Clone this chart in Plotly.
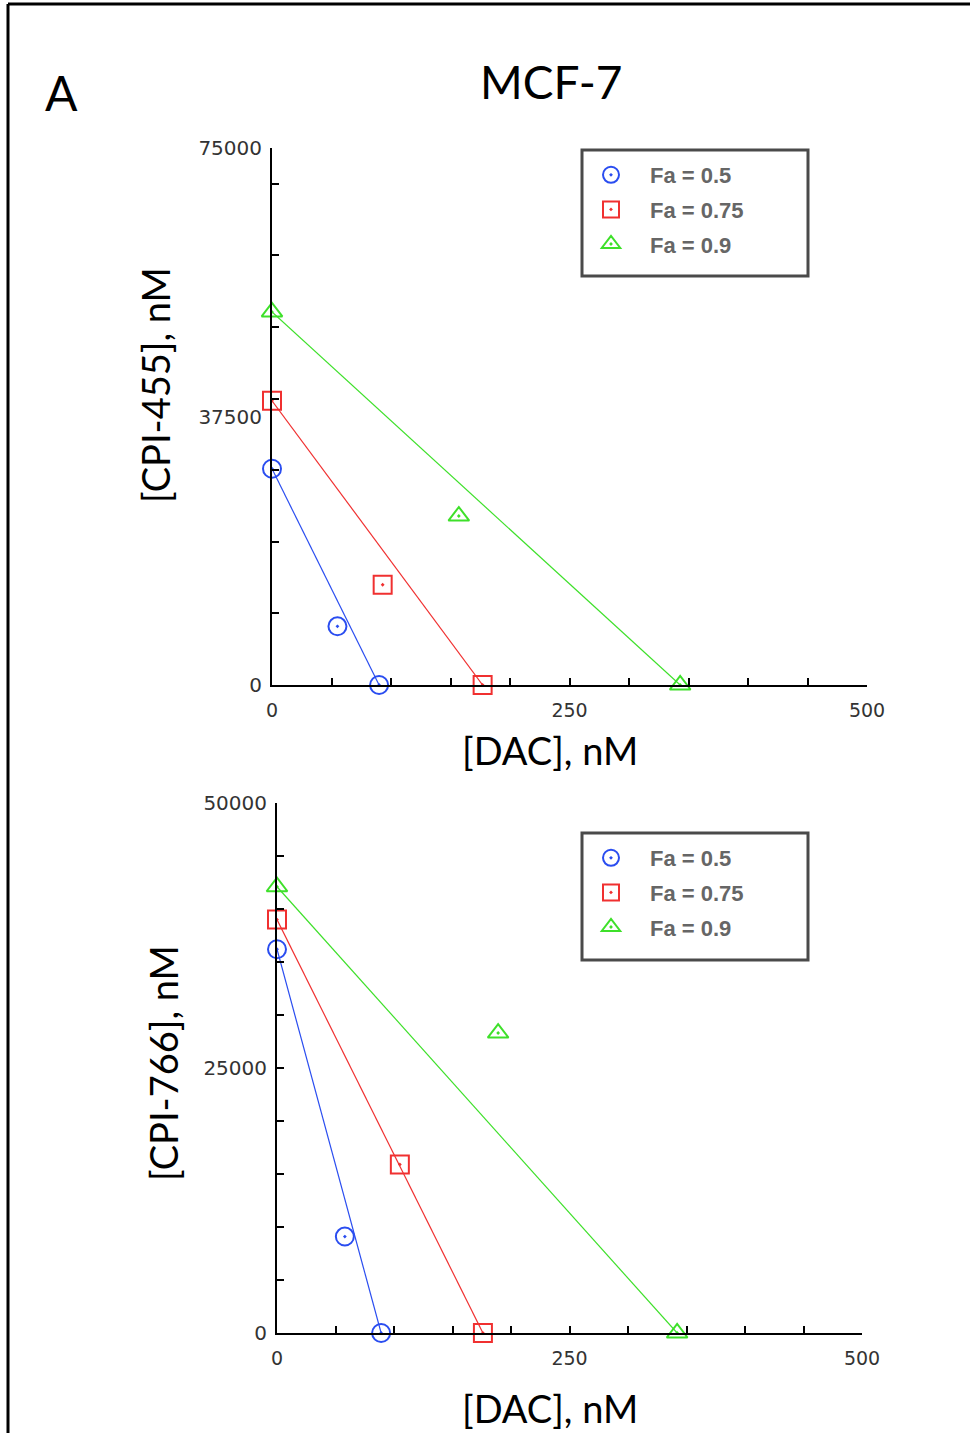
import plotly.graph_objects as go

# ---------------- data ----------------
fa_labels = ["Fa = 0.5", "Fa = 0.75", "Fa = 0.9"]
colors = ["#2a4df0", "#f03030", "#3ee02a"]
symbols = ["circle-open-dot", "square-open-dot", "triangle-up-open-dot"]

# Top panel: DAC (x) vs CPI-455 (y)
dac_top = [[0, 55, 90], [0, 93, 177], [0, 157, 343]]
cpi455 = [[30200, 8200, 0], [39700, 14000, 0], [52100, 23600, 0]]

# Bottom panel: DAC (x) vs CPI-766 (y)
dac_bot = [[0, 58, 89], [0, 105, 176], [0, 189, 342]]
cpi766 = [[36200, 9100, 0], [39000, 15900, 0], [42100, 28300, 0]]

top_yticks = [0, 37500, 75000]
bot_yticks = [0, 25000, 50000]
xticks = [0, 250, 500]

W, H = 970, 1433

def px(x):
    return x / W

def py(y):
    return 1 - y / H

fig = go.Figure()

panels = [
    (dac_top, cpi455, "x", "y", "legend"),
    (dac_bot, cpi766, "x2", "y2", "legend2"),
]
for dac, cpi, xa, ya, lg in panels:
    for i in range(3):
        # isobole line between the two axis intercepts
        fig.add_trace(go.Scatter(
            x=[dac[i][0], dac[i][-1]], y=[cpi[i][0], cpi[i][-1]],
            mode="lines", line=dict(color=colors[i], width=1.2),
            xaxis=xa, yaxis=ya, showlegend=False, hoverinfo="skip",
            cliponaxis=False))
    for i in range(3):
        fig.add_trace(go.Scatter(
            x=dac[i], y=cpi[i], mode="markers",
            name=fa_labels[i] + "\u00a0" * 9,
            marker=dict(symbol=symbols[i], size=18, color=colors[i],
                        line=dict(color=colors[i], width=2)),
            xaxis=xa, yaxis=ya, legend=lg, legendgroup=f"{lg}{i}",
            cliponaxis=False))

axis_common = dict(showline=True, linecolor="black", linewidth=2,
                   showgrid=False, zeroline=False, automargin=False,
                   fixedrange=True)

def xaxis(domain, anchor):
    return dict(axis_common, domain=domain, anchor=anchor, range=[0, 500],
                tickfont=dict(family="DejaVu Sans", size=19, color="#333333"),
                tickmode="array", tickvals=xticks,
                ticktext=[str(v) for v in xticks], ticks="inside",
                ticklen=7, tickwidth=1.5, tickcolor="black",
                ticklabelstandoff=7,
                minor=dict(ticks="inside", dtick=50, tick0=0, ticklen=7,
                           tickwidth=1.5, tickcolor="black"))

def yaxis(domain, anchor, rng, tickvals, dminor):
    return dict(axis_common, domain=domain, anchor=anchor, range=rng,
                tickfont=dict(family="DejaVu Sans", size=20, color="#333333"),
                tickmode="array", tickvals=tickvals,
                ticktext=[str(v) for v in tickvals], ticks="inside",
                ticklen=0, tickcolor="black", ticklabelstandoff=4,
                minor=dict(ticks="inside", dtick=dminor, tick0=0, ticklen=7,
                           tickwidth=1.5, tickcolor="black"))

legend_common = dict(
    xanchor="left", yanchor="top", bgcolor="rgba(0,0,0,0)",
    borderwidth=0,
    font=dict(family="Liberation Sans", size=22, color="#666666",
              weight="bold"),
    traceorder="grouped", tracegroupgap=3, itemwidth=68,
)

def ann(text, x, y, size=38, angle=0):
    return dict(text=text, x=px(x), y=py(y), xref="paper", yref="paper",
                xanchor="center", yanchor="middle", showarrow=False,
                textangle=angle,
                font=dict(family="Lato", size=size, color="black"))

def box(x0, y0, x1, y1):
    return dict(type="rect", xref="paper", yref="paper",
                x0=px(x0), x1=px(x1), y0=py(y1), y1=py(y0),
                line=dict(color="#4a4a4a", width=3), fillcolor="white",
                layer="below")

fig.update_layout(
    width=W, height=H,
    margin=dict(l=0, r=0, t=0, b=0),
    paper_bgcolor="white", plot_bgcolor="rgba(0,0,0,0)",
    xaxis=xaxis([px(272), px(867)], "y"),
    yaxis=yaxis([py(685), py(148)], "x", [0, 75000], top_yticks, 10000),
    xaxis2=xaxis([px(277), px(862)], "y2"),
    yaxis2=yaxis([py(1333), py(803)], "x2", [0, 50000], bot_yticks, 5000),
    legend=dict(legend_common, x=px(572), y=py(154)),
    legend2=dict(legend_common, x=px(572), y=py(837)),
    showlegend=True,
    annotations=[
        ann("A", 61, 92, size=48),
        ann("MCF-7", 551, 82, size=46),
        ann("[CPI-455], nM", 155, 385, angle=-90),
        ann("[DAC], nM", 550, 750),
        ann("[CPI-766], nM", 163, 1063, angle=-90),
        ann("[DAC], nM", 550, 1408),
    ],
    shapes=[
        dict(type="line", xref="paper", yref="paper", x0=px(8), x1=px(8),
             y0=0, y1=py(4), line=dict(color="black", width=3)),
        dict(type="line", xref="paper", yref="paper", x0=px(8), x1=1,
             y0=py(4), y1=py(4), line=dict(color="black", width=3)),
        box(582, 150, 808, 276),
        box(582, 833, 808, 960),
    ],
)

fig.write_html("out.html")
